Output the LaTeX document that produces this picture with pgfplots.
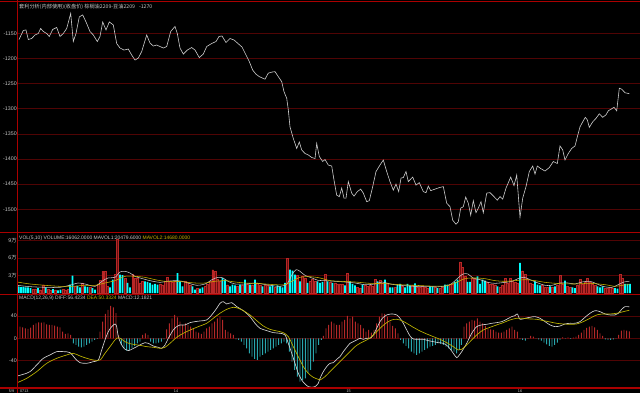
\documentclass[border=0pt]{standalone}
\usepackage{fontspec}
\setmainfont{Liberation Sans}
\newfontfamily\cjk{Noto Sans CJK SC}
\usepackage{pgfplots}
\usepackage{pgfplotstable}
\pgfplotsset{compat=1.18}
\definecolor{griddark}{RGB}{80,4,4}
\definecolor{sepred}{RGB}{170,0,0}
\definecolor{labelgray}{RGB}{200,200,200}
\definecolor{pricecol}{RGB}{205,205,205}
\definecolor{volred}{RGB}{105,14,14}
\definecolor{volrededge}{RGB}{185,38,38}
\definecolor{volcyan}{RGB}{0,255,255}
\definecolor{histred}{RGB}{180,40,40}
\definecolor{histcyan}{RGB}{40,165,172}
\definecolor{diffcol}{RGB}{210,210,210}
\definecolor{deacol}{RGB}{190,180,0}
\definecolor{mavone}{RGB}{200,200,200}
\definecolor{mavtwo}{RGB}{200,176,0}

\pgfplotstableread{
x y
19 -1162
23.3 -1144
26 -1143
28.3 -1162
31.7 -1160
35 -1153
38.3 -1150
40.7 -1140
43.3 -1146
46.7 -1150
49.3 -1156
52.7 -1142
56.7 -1138
60 -1156
63.3 -1150
66.7 -1140
70.7 -1110
73.3 -1166
76 -1150
79.3 -1117
82.7 -1113
86 -1127
90 -1146
93.3 -1153
97.3 -1166
100 -1156
102.7 -1127
106 -1143
109.3 -1127
113.3 -1133
116.7 -1170
120 -1179
124 -1183
128.3 -1181
131.7 -1193
135 -1203
138.3 -1199
141.7 -1186
146.7 -1153
150 -1169
153.3 -1175
156.7 -1173
160 -1176
163.3 -1179
166.7 -1176
170.7 -1146
175 -1136
177.3 -1150
180 -1179
183.3 -1191
187.3 -1183
191.7 -1178
195 -1183
199.3 -1198
203.3 -1191
206.7 -1176
211.7 -1170
216 -1166
219 -1156
222 -1155
226 -1168
230 -1160
234 -1163
238 -1170
242 -1177
245 -1189
249.3 -1206
252.7 -1223
256 -1231
259.3 -1236
262.7 -1239
265 -1241
268.3 -1229
271.7 -1227
275 -1226
278.3 -1236
281.7 -1246
284 -1266
286.7 -1279
288.3 -1302
290 -1336
293.3 -1359
296.7 -1379
299.3 -1366
301.7 -1382
305 -1389
308.3 -1392
311.7 -1397
315 -1399
316.7 -1369
319.3 -1395
322.7 -1405
325 -1401
328.3 -1412
331.7 -1414
334 -1442
336.7 -1472
339.3 -1475
341.7 -1458
344 -1478
346 -1478
348.3 -1445
351.7 -1468
354 -1474
357.3 -1465
360.7 -1460
363.3 -1468
366.7 -1485
369.3 -1483
372.7 -1455
376 -1425
380 -1412
383.3 -1402
386.7 -1425
390 -1445
393.3 -1462
396 -1450
398.7 -1465
401 -1438
403.3 -1437
406 -1425
408.3 -1445
412.7 -1436
416 -1452
419.3 -1447
423.3 -1465
426 -1467
428.3 -1454
430.7 -1463
435 -1460
439.3 -1457
443.3 -1455
446.7 -1488
450 -1495
452.7 -1522
456 -1530
458.3 -1525
460.7 -1498
463.3 -1495
465.7 -1476
468.3 -1488
470.7 -1512
473.3 -1483
476 -1507
478.3 -1498
481 -1485
483.3 -1507
486.7 -1468
490 -1467
494 -1475
497.3 -1482
500 -1475
502.7 -1480
506 -1458
510.7 -1436
514 -1453
516.7 -1432
520 -1516
522.7 -1478
526 -1455
529.3 -1425
532.7 -1414
535 -1430
537.3 -1414
540.7 -1419
545 -1424
549.3 -1417
553.3 -1405
557.3 -1409
560 -1374
562.7 -1382
565 -1402
568.3 -1389
571.7 -1379
575 -1374
577.3 -1356
580 -1336
582.7 -1326
585.3 -1317
587.3 -1322
589.3 -1337
592.7 -1326
596 -1319
599.3 -1310
602.7 -1317
606 -1312
608.3 -1304
611.7 -1300
614 -1297
616.7 -1304
619.3 -1259
621.7 -1261
625 -1268
629.3 -1270
}\pricetable

\pgfplotstableread{
x v
33 6500
35.5 7200
40.5 6000
43.3 14600
48 6500
50.5 5000
55.5 6000
63 7000
65.5 6000
68 6500
75 11800
82.5 17500
90 10000
98 15800
100.3 22000
102.7 37500
105.3 37500
107.5 11800
115 31800
117.3 91800
125 26000
132.7 31800
135 26000
137.5 26000
140 17500
142.5 20300
160 15800
162.5 14600
165 20300
167.5 27200
170 20300
172.5 19200
175 20300
185 20300
187.5 19200
190 14600
197.5 8900
205 11800
207.5 15800
210 20300
212.7 40300
215 37500
217.5 23200
220 20300
227.5 14600
237.5 11800
242.5 14600
247.5 15800
252.5 14600
257.5 17500
260 14600
265 13500
267.5 14600
275 10000
287.5 60300
297.5 30600
302.5 28900
305 26000
310 20300
312.5 23200
315 20300
325 31800
330 19200
335 17500
337.5 15800
340 15800
342.5 15800
347.5 34600
357.5 10000
360 8900
365 13500
367.5 11800
370 13500
372.5 11800
375 23200
380 21500
382.5 17500
387.5 17500
395 10000
402.5 11800
412.5 13500
417.5 10000
420 10000
422.5 11800
425 10000
427.5 8900
435 10000
440 8900
442.5 10000
450 15800
452.5 15800
460 53500
462.5 44300
465 28900
472.5 26000
475 23200
487.5 19200
490 15800
492.5 15800
495 14600
500 10000
502.5 14600
505 24900
507.5 17500
510 26000
512.5 20300
515 19200
517.5 17500
522.5 38600
525 31800
527.5 23200
530 17500
532.5 15800
542.5 13500
545 10000
547.5 10000
552.5 10000
557.5 14600
560 30600
562.5 15800
567.5 11800
570 10000
577.5 14600
580 23200
582.5 15800
585 19200
587.5 26000
590 19200
592.5 15800
595 13500
605 8900
607.5 8900
610 10000
612.5 7800
620 31800
622.5 26000
}\volred

\pgfplotstableread{
x v
18.3 11800
20.8 10500
23.2 11000
25.6 10000
28 10000
30.5 8900
38 8900
45.7 10000
53 7000
58 5000
60.5 6000
70 14600
72.5 30000
77.5 12500
80 10000
85 11800
87.5 11000
92.5 8900
95 6000
110 10000
112.7 23200
120 31800
122.5 31000
127.5 17500
130 10000
145 20300
147.5 19200
150 17500
152.5 14600
155 15800
157.5 14600
177.5 34600
180 20300
182.5 11800
192.5 11800
195 6000
200 7800
202.5 10000
222.5 26000
225 23200
230 11800
232.5 14600
235 13500
240 14600
245 23200
250 14600
255 23200
262.5 11800
270 11800
272.5 13500
277.5 13500
280 11800
282.5 10000
285 17500
290 40300
292.5 38600
295 31800
300 20300
307.5 17500
317.5 20300
320 17500
322.5 19200
327.5 20300
332.5 17500
345 13500
350 20300
352.5 15800
355 13500
362.5 14600
377.5 20300
385 23200
390 10000
392.5 10000
397.5 14600
400 15800
405 10000
407.5 15800
410 13500
415 16900
430 11800
432.5 11800
437.5 8900
445 14600
447.5 14600
455 19200
457.5 23200
467.5 19200
470 19200
477.5 28900
480 15800
482.5 23200
485 21500
497.5 11800
520 51800
535 20300
537.5 14600
540 13500
550 11800
555 11800
565 21500
572.5 10000
575 8900
597.5 11800
600 10000
602.5 11800
615 8900
617.5 7800
625 15800
627.5 15800
630 16062
}\volcyan

\pgfplotstableread{
x v
17 13500
30 11200
45 10100
60 10100
72 14600
78 17500
85 15800
95 11800
102 20400
108 26100
115 27200
120 36300
125 37500
130 34600
135 28900
140 26100
150 21500
160 18600
167 20400
175 21500
182 20400
190 16400
197 13500
205 15800
212 23200
218 27200
223 26100
228 20400
235 15800
245 15800
255 17500
262 15800
270 13500
280 11800
287 15800
292 31800
296 40300
300 37500
305 30600
312 26100
318 22100
325 21500
335 20400
345 19200
355 17500
365 14600
375 15800
382 19200
390 15800
400 13500
410 12300
420 11200
430 11200
440 11200
450 14600
458 26100
463 32900
468 32900
473 26100
480 23200
488 18600
495 16900
505 18600
512 20400
518 24900
524 27200
530 23200
538 17500
545 13500
552 13500
560 17500
568 17500
575 15800
582 19200
590 20400
597 15800
604 11200
612 10100
618 14600
624 19200
629.3 20480
}\mavolone

\pgfplotstableread{
x v
17 19200
30 15800
45 13500
60 11800
72 11800
85 13500
95 13500
105 17500
115 21500
125 28900
135 28900
145 27200
155 23200
165 20400
175 20400
185 19200
195 17500
205 17500
215 20400
225 21500
235 19200
245 17500
260 16400
275 14600
285 14600
292 20400
300 27200
310 28300
320 26100
330 21500
340 20400
355 19200
370 16900
385 16400
400 14600
415 13500
430 12300
445 12300
455 17500
465 24900
475 26100
485 24900
495 21500
505 20400
515 21500
525 23200
535 21500
545 18600
560 16400
575 15800
590 16900
605 14600
615 11800
622 13500
629.3 14680
}\mavoltwo

\pgfplotstableread{
x v
17.3 23.9
20 20.9
22.7 19.7
25.3 17.9
28 16.7
30.7 19.1
33.3 23.9
36 26.9
38.7 28.7
41.3 28.1
44 28.7
46.7 25.1
49.3 23.9
52 23.9
54.7 22.7
57.3 20.9
60 19.7
62.7 12
65.3 7.8
68 9
70.7 6
100 12
102.7 29.9
105.3 43.7
108 50.8
110.7 58
113.3 55.6
116 45
118.7 6
142.7 6
145.3 9
148 6
166.7 16.1
169.3 26.9
172 35.9
174.7 41.9
177.3 37.7
180 29.9
182.7 23.9
185.3 26.9
188 23.9
190.7 20.9
193.3 17.9
196 12
198.7 10.2
201.3 7.8
204 12
206.7 17.9
209.3 20.9
212 26.9
214.7 29.9
217.3 35.9
220 38.9
222.7 32.9
225.3 15
228 12
230.7 9
233.3 6
323.3 4.2
326 17.9
328.7 23.9
331.3 29.9
334 26.9
336.7 23.9
339.3 23.9
342 29.9
344.7 32.9
347.3 40.1
350 35.9
352.7 38.9
355.3 29.9
358 26.9
360.7 23.9
363.3 17.9
366 12
368.7 15
371.3 10.2
374 15
376.7 26.9
379.3 38.9
382 44.9
384.7 43.7
387.3 38.9
390 29.9
392.7 22.1
395.3 17.9
398 9
464 20.9
466.7 26.9
469.3 29.9
472 32.9
474.7 31.7
477.3 35.9
480 29.9
482.7 26.9
485.3 22.1
488 17.9
490.7 16.1
493.3 15
496 12
498.7 10.2
501.3 10.2
504 12
506.7 15
509.3 17.9
512 20.9
514.7 15
517.3 12
530.7 4.2
533.3 3
562.7 1.8
568 1.8
573.3 1.2
576 3
578.7 6
581.3 10.2
584 15
586.7 18.5
589.3 20.9
592 22.1
594.7 19.7
597.3 15
600 9
602.7 4.2
618.7 6
621.3 13.8
624 15
626.7 13.8
629.3 12.2
}\histpos

\pgfplotstableread{
x v
73.3 -9
76 -12
78.7 -15
81.3 -16.1
84 -15
86.7 -12
89.3 -9
92 -6
94.7 -3
97.3 -1.2
121.3 -12
124 -17.9
126.7 -22.1
129.3 -20.9
132 -17.9
134.7 -13.8
137.3 -9
140 -6
150.7 -6
153.3 -9
156 -9
158.7 -7.8
161.3 -6
164 -1.8
236 -1.8
238.7 -3
241.3 -6
244 -12
246.7 -17.9
249.3 -26.9
252 -32.9
254.7 -37.1
257.3 -38.9
260 -32.9
262.7 -29.9
265.3 -26.9
268 -23.9
270.7 -20.9
273.3 -17.9
276 -15
278.7 -12
281.3 -9
284 -6
286.7 -9
289.3 -23.9
292 -41.9
294.7 -56.8
297.3 -68.8
300 -77.7
302.7 -74.8
305.3 -71.8
308 -62.8
310.7 -56.8
313.3 -41.9
316 -26.9
318.7 -12
321.3 -3
400.7 -3
403.3 -9
406 -13.8
408.7 -17.9
411.3 -23.9
414 -26.9
416.7 -29.9
419.3 -26.9
422 -23.9
424.7 -20.9
427.3 -17.9
430 -15
432.7 -13.8
435.3 -12
438 -9
440.7 -10.2
443.3 -12
446 -15
448.7 -17.9
451.3 -20.9
454 -23.9
456.7 -26.9
459.3 -20.9
461.3 -12
520 -1.8
522.7 -3
525.3 -4.2
528 -1.2
536 -0.6
538.7 -1.8
541.3 -4.2
544 -7.8
546.7 -10.8
549.3 -13.8
552 -15
554.7 -12
557.3 -7.8
560 -3
565.3 -0.6
570.7 -1.2
605.3 -1.8
608 -3
610.7 -3
613.3 -1.8
616 -0.6
}\histneg

\pgfplotstableread{
x v
17.3 -67.6
23.3 -64.6
30 -59.8
36.7 -47.8
43.3 -35.9
50 -29.9
56.7 -23.9
63.3 -23.9
70 -25.7
75 -35.9
80 -43.7
86.7 -44.9
93.3 -41.9
98.3 -38.9
101.7 -20.9
105 -3
108.3 12
111.7 20.9
115 25.7
116.7 20.9
118.3 3
121.7 -12
125 -19.7
128.3 -22.1
131.7 -19.7
136.7 -15
141.7 -10.2
145 -7.8
148.3 -9
153.3 -13.8
158.3 -16.1
161.7 -17.9
165 -12
168.3 0
173.3 15
176.7 20.9
180 24
185 24
190 28.1
195 29.9
200 31.1
206.7 32.9
211.7 41.9
216.7 53.8
220 62.8
223.3 65.8
226.7 61.6
231.7 64
236.7 56.8
243.3 49.6
250 38.9
255 26.9
260 18
266.7 13.8
273.3 10.2
280 9
285 6
288.3 -9
291.7 -26.9
295 -44.9
298.3 -62.8
301.7 -74.8
305 -81.9
308.3 -86.7
311.7 -87.9
315 -86.7
318.3 -80.7
320 -71.8
323.3 -59.8
326.7 -50.8
330 -44.9
333.3 -43.7
336.7 -37.7
340 -32.9
343.3 -24
346.7 -16.1
350 -9
353.3 -6
356.7 -3
360 0
363.3 -1.8
366.7 0
370 0
373.3 6
376.7 18
380 29.9
383.3 37.7
386.7 41.9
391.7 43.7
396.7 41.9
400 35.9
403.3 26.9
406.7 15
410 4.2
413.3 -1.2
418.3 -1.8
423.3 -1.8
428.3 -4.2
433.3 -6
438.3 -7.8
443.3 -9
448.3 -15
453.3 -26.9
456.7 -34.7
459.3 -30
461.7 -24
466.7 -9
471.7 9
476.7 20.9
481.7 24
486.7 25.1
491.7 26.9
496.7 28.1
501.7 29.9
506.7 34.1
511.7 38.9
515 40.7
517.3 43.7
520 34.1
525 35.9
530 37.7
535 38.9
540 35.9
545 29.9
550 24
555 20.9
560 22.1
565 25.7
570 26.9
575 26.9
580 29.9
585 37.7
590 44.9
595 49.6
600 47.8
605 43.7
610 41.9
615 41.9
618.3 44.9
621.7 52
625 56.8
629.3 56.4
}\difftable

\pgfplotstableread{
x v
17.3 -79.5
26.7 -71.8
36.7 -59.8
46.7 -44.9
56.7 -35.9
66.7 -29.9
73.3 -26.9
80 -31.7
86.7 -35.9
93.3 -38.9
100 -38.9
105 -26.9
110 -15
115 -3
118.3 1.2
121.7 -1.8
126.7 -7.8
133.3 -10.8
140 -12.6
146.7 -15
153.3 -16.1
160 -17.9
165 -16.1
170 -9
176.7 1.8
183.3 9
191.7 16.1
200 22.1
206.7 26.9
213.3 35.9
220 44.9
226.7 52
233.3 55.6
238.3 53.8
243.3 49.6
250 41.9
256.7 31.7
263.3 22.1
270 16.1
276.7 13.2
283.3 10.2
288.3 3
293.3 -15
298.3 -32.9
303.3 -50.8
308.3 -62.8
313.3 -70
318.3 -73.6
320 -74.8
325 -68.8
330 -59.8
335 -50.8
340 -41.9
345 -32.9
350 -24
355 -15
360 -9
366.7 -3
371.7 3
376.7 12
381.7 20.9
386.7 28.1
391.7 32.9
396.7 34.1
401.7 31.7
406.7 26.9
413.3 19.7
420 13.2
426.7 7.8
433.3 3
440 -1.8
446.7 -7.8
453.3 -15
458.3 -21
461.7 -19.7
466.7 -12
471.7 -3
476.7 6
483.3 15
490 19.7
496.7 24
503.3 28.1
510 32.9
516.7 35.9
523.3 35.9
530 34.7
536.7 34.1
543.3 31.7
550 29.3
556.7 26.9
563.3 25.7
570 25.1
576.7 25.7
583.3 29.9
590 35.9
596.7 41.9
603.3 43.7
610 43.7
616.7 44.9
623.3 47.8
629.3 50.3
}\deatable

\pgfplotsset{
  panel/.style={
    scale only axis, width=622.5bp, xmin=17.5, xmax=640,
    anchor=south west,
    axis line style={draw=none}, tick style={draw=none},
    xtick=\empty, ymajorgrids,
    grid style={color=griddark, line width=0.6bp},
    yticklabel style={font=\fontsize{5.3}{6}\selectfont, text=labelgray, inner sep=0.6bp},
    scaled y ticks=false,
  }
}

\begin{document}
\begin{tikzpicture}
\useasboundingbox (0,0) rectangle (640bp,393bp);
\fill[black] (0,0) rectangle (640bp,393bp);

% price panel
\begin{axis}[panel, at={(17.5bp,160.5bp)}, height=231bp,
  ymin=-1546.4, ymax=-1086.3,
  ytick={-1150,-1200,-1250,-1300,-1350,-1400,-1450,-1500},
  yticklabels={-1150,-1200,-1250,-1300,-1350,-1400,-1450,-1500}]
\addplot[color=pricecol, line width=0.6bp] table[x=x,y=y] {\pricetable};
\end{axis}

% volume panel
\begin{axis}[panel, at={(17.5bp,98.5bp)}, height=62bp,
  ymin=-2228, ymax=104040,
  ytick={30000,60000,90000},
  yticklabels={{3\cjk 万},{6\cjk 万},{9\cjk 万}}]
\addplot[ybar, bar width=1.9, bar shift=0pt, fill=volred, draw=volrededge, line width=0.35bp] table[x=x,y=v] {\volred};
\addplot[ybar, bar width=1.9, bar shift=0pt, fill=volcyan, draw=none] table[x=x,y=v] {\volcyan};
\addplot[color=mavone, line width=0.55bp, smooth] table[x=x,y=v] {\mavolone};
\addplot[color=mavtwo, line width=0.55bp, smooth] table[x=x,y=v] {\mavoltwo};
\end{axis}

% MACD panel
\begin{axis}[panel, at={(17.5bp,5bp)}, height=93.5bp,
  ymin=-89.15, ymax=78.57,
  ytick={-40,0,40},
  yticklabels={-40,0,40}]
\addplot[ybar, bar width=0.95, bar shift=0pt, fill=histred, draw=none] table[x=x,y=v] {\histpos};
\addplot[ybar, bar width=0.95, bar shift=0pt, fill=histcyan, draw=none] table[x=x,y=v] {\histneg};
\addplot[color=diffcol, line width=0.65bp, smooth] table[x=x,y=v] {\difftable};
\addplot[color=deacol, line width=0.65bp, smooth] table[x=x,y=v] {\deatable};
\end{axis}

% panel separators
\draw[sepred, line width=1.1bp] (0,391.5bp) -- (640bp,391.5bp);
\draw[sepred, line width=1.1bp] (0,160.5bp) -- (640bp,160.5bp);
\draw[sepred, line width=1.1bp] (0,98.5bp) -- (640bp,98.5bp);
\draw[sepred, line width=1.1bp] (0,5bp) -- (640bp,5bp);
\draw[sepred, line width=1.1bp] (17.5bp,0) -- (17.5bp,393bp);

% texts
\node[anchor=west, inner sep=0pt, text=labelgray, font=\cjk\fontsize{5.2}{6}\selectfont] at (19bp,386.3bp)
  {套利分析(内部使用)(收盘价) 棕榈油2209-豆油2209\hspace{4bp}-1270};
\node[anchor=west, inner sep=0pt, font=\fontsize{5}{6}\selectfont] at (19bp,155bp)
  {\textcolor{labelgray}{VOL(5,10) VOLUME:16062.0000 MAVOL1:20479.6000} \textcolor{mavtwo}{MAVOL2:14680.0000}};
\node[anchor=west, inner sep=0pt, font=\fontsize{5}{6}\selectfont] at (19bp,94.5bp)
  {\textcolor{labelgray}{MACD(12,26,9) DIFF:56.4234} \textcolor{deacol}{DEA:50.3324} \textcolor{labelgray}{MACD:12.1821}};
\begin{scope}[every node/.style={inner sep=0pt, text=labelgray, font=\fontsize{3.8}{4}\selectfont}]
\node at (11.5bp,2bp) {5/9};
\node at (24.3bp,2bp) {0713};
\node at (176bp,2bp) {14};
\node at (348.7bp,2bp) {15};
\node at (520bp,2bp) {16};
\end{scope}
\end{tikzpicture}
\end{document}
